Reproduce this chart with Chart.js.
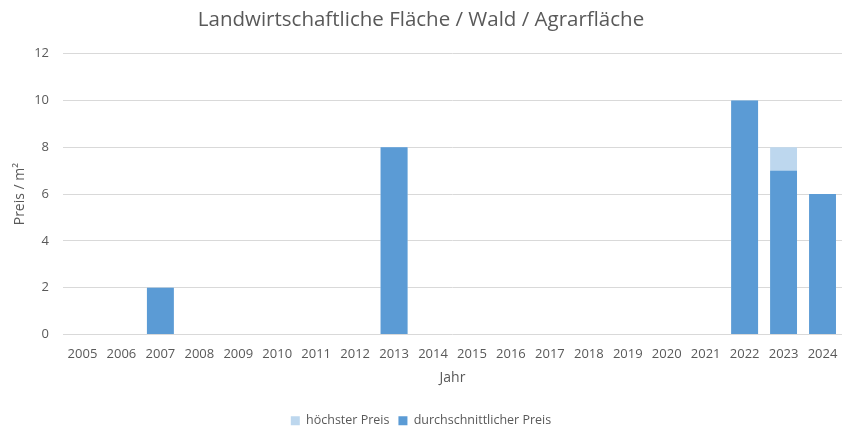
<!DOCTYPE html>
<html>
<head>
<meta charset="utf-8">
<script src="https://cdn.jsdelivr.net/npm/chart.js@4"></script>
<style>
  html, body { margin: 0; padding: 0; background: #fff; }
  #wrap { width: 847px; height: 437px; }
</style>
</head>
<body>
<div id="wrap"><canvas id="chart" width="847" height="437"></canvas></div>
<script>
// ---- Data ----
const YEARS = ["2005","2006","2007","2008","2009","2010","2011","2012","2013","2014",
               "2015","2016","2017","2018","2019","2020","2021","2022","2023","2024"];
const HOECHST = [null,null,2,null,null,null,null,null,8,null,null,null,null,null,null,null,null,10,8,6];
const DURCHSCHNITT = [null,null,2,null,null,null,null,null,8,null,null,null,null,null,null,null,null,10,7,6];
const Y_TICKS = [0, 2, 4, 6, 8, 10, 12];

const FONT = "'Open Sans', 'Noto Sans', sans-serif";
const GREY = "#595959";

new Chart(document.getElementById('chart'), {
  type: 'bar',
  data: {
    labels: YEARS,
    datasets: [
      { label: 'höchster Preis', data: HOECHST, backgroundColor: '#BDD7EE', order: 1,
        categoryPercentage: 1, barPercentage: 0.69 },
      { label: 'durchschnittlicher Preis', data: DURCHSCHNITT, backgroundColor: '#5B9BD5', order: 0,
        categoryPercentage: 1, barPercentage: 0.69 }
    ]
  },
  options: {
    responsive: false,
    animation: false,
    layout: { padding: { left: 0, right: 5, top: 0, bottom: 0 } },
    plugins: {
      title: {
        display: true,
        text: 'Landwirtschaftliche Fläche / Wald / Agrarfläche',
        color: GREY,
        font: { family: FONT, size: 20.5, weight: 'normal' },
        padding: { top: 8, bottom: 21 }
      },
      legend: {
        position: 'bottom',
        labels: {
          color: GREY,
          font: { family: FONT, size: 12.5 },
          boxWidth: 9, boxHeight: 9,
          padding: 9,
          sort: (a, b) => a.datasetIndex - b.datasetIndex
        }
      },
      tooltip: { enabled: false }
    },
    scales: {
      x: {
        stacked: true,
        afterFit: (s) => { s.height = 71; },
        grid: { display: false },
        border: { display: false },
        ticks: { color: GREY, font: { family: FONT, size: 13 }, maxRotation: 0, autoSkip: false, padding: 4 },
        title: { display: true, text: 'Jahr', color: GREY, font: { family: FONT, size: 14 }, padding: { top: 4, bottom: 19 } }
      },
      y: {
        stacked: false,
        min: 0, max: 12,
        afterBuildTicks: (s) => { s.ticks = Y_TICKS.map(v => ({ value: v })); },
        afterFit: (s) => { s.width = 63; },
        grid: { color: '#D9D9D9', drawTicks: false },
        border: { display: false },
        ticks: { color: GREY, font: { family: FONT, size: 13 }, padding: 14 },
        title: { display: true, text: 'Preis / m²', color: GREY, font: { family: FONT, size: 14 }, padding: 12 }
      }
    }
  }
});
</script>
</body>
</html>
